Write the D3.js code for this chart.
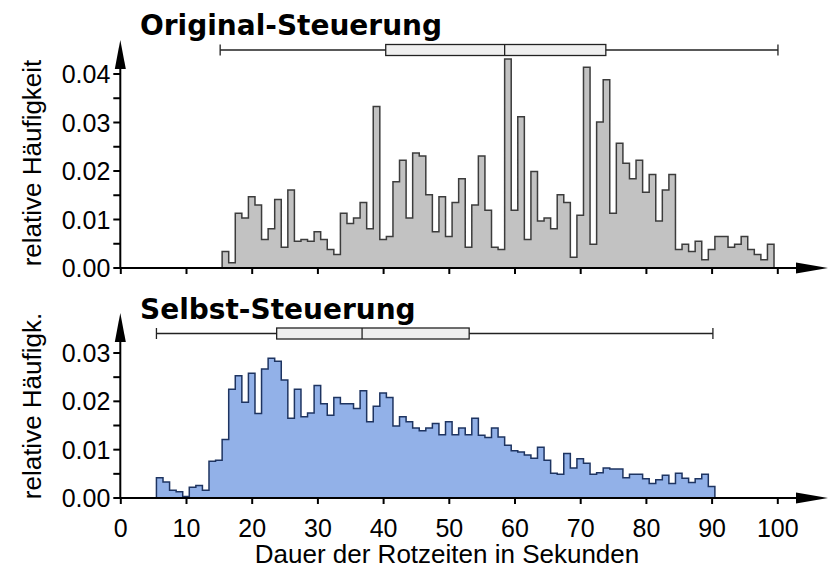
<!DOCTYPE html>
<html>
<head>
<meta charset="utf-8">
<script src="https://cdn.jsdelivr.net/npm/d3@7"></script>
<style>
  body { margin: 0; background: #fff; }
  svg { display: block; }
</style>
</head>
<body>
<svg id="chart" width="828" height="566"></svg>
<script>
// relative Häufigkeit je 1-Sekunden-Klasse (Klassenmitte = Sekunde)
var origStart = 16;
var origValues = [
  0.0034, 0.0011, 0.0113, 0.0103, 0.0147, 0.0130, 0.0059, 0.0081, 0.0141, 0.0043,
  0.0161, 0.0055, 0.0059, 0.0055, 0.0075, 0.0059, 0.0038, 0.0028, 0.0113, 0.0092,
  0.0103, 0.0135, 0.0081, 0.0333, 0.0059, 0.0065, 0.0178, 0.0222, 0.0103, 0.0237,
  0.0231, 0.0151, 0.0075, 0.0147, 0.0065, 0.0135, 0.0184, 0.0043, 0.0130, 0.0231,
  0.0119, 0.0043, 0.0038, 0.0431, 0.0119, 0.0312, 0.0059, 0.0199, 0.0097, 0.0103,
  0.0081, 0.0151, 0.0135, 0.0022, 0.0109, 0.0414, 0.0049, 0.0301, 0.0388, 0.0113,
  0.0257, 0.0216, 0.0184, 0.0222, 0.0156, 0.0193, 0.0097, 0.0161, 0.0193, 0.0038,
  0.0049, 0.0034, 0.0055, 0.0017, 0.0038, 0.0065, 0.0065, 0.0043, 0.0049, 0.0065,
  0.0038, 0.0028, 0.0017, 0.0049
];
var selbstStart = 6;
var selbstValues = [
  0.0042, 0.0033, 0.0016, 0.0013, 0.0003, 0.0022, 0.0026, 0.0016, 0.0076, 0.0078,
  0.0121, 0.0225, 0.0253, 0.0198, 0.0258, 0.0175, 0.0267, 0.0289, 0.0283, 0.0244,
  0.0165, 0.0225, 0.0168, 0.0176, 0.0233, 0.0195, 0.0171, 0.0208, 0.0195, 0.0195,
  0.0185, 0.0222, 0.0158, 0.0190, 0.0217, 0.0208, 0.0149, 0.0168, 0.0158, 0.0145,
  0.0139, 0.0145, 0.0154, 0.0131, 0.0158, 0.0131, 0.0145, 0.0131, 0.0165, 0.0130,
  0.0125, 0.0145, 0.0126, 0.0109, 0.0098, 0.0095, 0.0089, 0.0082, 0.0105, 0.0078,
  0.0051, 0.0049, 0.0092, 0.0062, 0.0081, 0.0072, 0.0049, 0.0052, 0.0062, 0.0060,
  0.0060, 0.0042, 0.0049, 0.0049, 0.0040, 0.0030, 0.0038, 0.0047, 0.0030, 0.0051,
  0.0041, 0.0032, 0.0040, 0.0049, 0.0024
];
// Boxplot: Minimum, Q1, Median, Q3, Maximum
var origBox = [15.2, 40.4, 58.5, 73.9, 100.1];
var selbstBox = [5.5, 23.8, 36.8, 53.1, 90.2];

var xTicks = [0, 10, 20, 30, 40, 50, 60, 70, 80, 90, 100];
var origYTicks = [0, 0.01, 0.02, 0.03, 0.04];
var selbstYTicks = [0, 0.01, 0.02, 0.03];

var svg = d3.select("#chart");
var font = "'Liberation Sans', Arial, sans-serif";

var x = d3.scaleLinear().domain([0, 100]).range([120.3, 777.3]);

var panels = [
  { title: "Original-Steuerung", ylabel: "relative Häufigkeit", start: origStart, values: origValues,
    box: origBox, yTicks: origYTicks, ymax: 0.04, y0: 268, y1: 74, top: 40, titleY: 35, boxY: 50,
    labelY: 163, fill: "#c2c2c2", stroke: "#3c3c3c" },
  { title: "Selbst-Steuerung", ylabel: "relative Häufigk.", start: selbstStart, values: selbstValues,
    box: selbstBox, yTicks: selbstYTicks, ymax: 0.03, y0: 498, y1: 353, top: 313, titleY: 319, boxY: 333.5,
    labelY: 406, fill: "#92b1e8", stroke: "#1e3461" }
];

panels.forEach(function(p, pi) {
  var y = d3.scaleLinear().domain([0, p.ymax]).range([p.y0, p.y1]);
  var g = svg.append("g");

  // Histogramm: Stufen, Anfangs-/Endkante bis zur Nulllinie
  var steps = [{ s: p.start - 0.5, v: 0 }];
  p.values.forEach(function(v, i) {
    steps.push({ s: p.start + i - 0.5, v: v });
    steps.push({ s: p.start + i + 0.5, v: v });
  });
  steps.push({ s: p.start + p.values.length - 0.5, v: 0 });

  g.append("path")
    .datum(steps)
    .attr("d", d3.area()
      .x(function(d) { return x(d.s); })
      .y0(y(0))
      .y1(function(d) { return y(d.v); }))
    .attr("fill", p.fill);
  g.append("path")
    .datum(steps)
    .attr("d", d3.line()
      .x(function(d) { return x(d.s); })
      .y(function(d) { return y(d.v); }))
    .attr("fill", "none")
    .attr("stroke", p.stroke)
    .attr("stroke-width", 1.5);

  // x-Achse
  var xAxis = d3.axisBottom(x).tickValues(xTicks).tickSize(6).tickFormat(d3.format("d"));
  var xg = g.append("g")
    .attr("transform", "translate(0," + p.y0 + ")")
    .call(xAxis);
  xg.select(".domain").remove();
  xg.selectAll(".tick line").attr("stroke", "#000").attr("stroke-width", 2);
  if (pi === 0) {
    xg.selectAll(".tick text").remove();
  } else {
    xg.attr("font-size", null).attr("font-family", null);
    xg.selectAll(".tick text")
      .style("font-size", "25px")
      .style("font-family", font)
      .attr("fill", "#000")
      .attr("dy", null)
      .attr("y", 39);
  }
  g.append("line")
    .attr("x1", x(0) - 6).attr("x2", 800)
    .attr("y1", p.y0).attr("y2", p.y0)
    .attr("stroke", "#000").attr("stroke-width", 2);
  g.append("path")
    .attr("d", "M796," + (p.y0 - 5.5) + "L828," + p.y0 + "L796," + (p.y0 + 5.5) + "Z")
    .attr("fill", "#000");

  // y-Achse
  var minor = d3.range(0, p.ymax + 0.0001, 0.005);
  var yg = g.append("g").attr("transform", "translate(" + x(0) + ",0)");
  yg.selectAll("line.minor")
    .data(minor)
    .enter()
    .append("line")
    .attr("class", "minor")
    .attr("x1", -7).attr("x2", 0)
    .attr("y1", function(d) { return y(d); })
    .attr("y2", function(d) { return y(d); })
    .attr("stroke", "#000").attr("stroke-width", 2);
  yg.selectAll("text")
    .data(p.yTicks)
    .enter()
    .append("text")
    .attr("x", -10)
    .attr("y", function(d) { return y(d); })
    .attr("dy", "0.36em")
    .attr("text-anchor", "end")
    .style("font-size", "25px")
    .style("font-family", font)
    .text(d3.format(".2f"));
  yg.append("line")
    .attr("x1", 0).attr("x2", 0)
    .attr("y1", p.y0 + 1).attr("y2", p.top + 20)
    .attr("stroke", "#000").attr("stroke-width", 2);
  yg.append("path")
    .attr("d", "M-5.5," + (p.top + 29) + "L0," + p.top + "L5.5," + (p.top + 29) + "Z")
    .attr("fill", "#000");

  // y-Achsentitel
  g.append("text")
    .attr("transform", "translate(41," + p.labelY + ") rotate(-90)")
    .attr("text-anchor", "middle")
    .style("font-size", "26px")
    .style("font-family", font)
    .text(p.ylabel);

  // Titel
  g.append("text")
    .attr("x", 140)
    .attr("y", p.titleY)
    .style("font-size", "28px")
    .style("font-weight", "bold")
    .style("font-family", "'DejaVu Sans', Verdana, sans-serif")
    .text(p.title);

  // Boxplot
  var b = p.box, bh = 11;
  g.append("line")
    .attr("x1", x(b[0])).attr("x2", x(b[4]))
    .attr("y1", p.boxY).attr("y2", p.boxY)
    .attr("stroke", "#222").attr("stroke-width", 1.3);
  [b[0], b[4]].forEach(function(v) {
    g.append("line")
      .attr("x1", x(v)).attr("x2", x(v))
      .attr("y1", p.boxY - bh / 2).attr("y2", p.boxY + bh / 2)
      .attr("stroke", "#222").attr("stroke-width", 1.3);
  });
  g.append("rect")
    .attr("x", x(b[1]))
    .attr("y", p.boxY - bh / 2)
    .attr("width", x(b[3]) - x(b[1]))
    .attr("height", bh)
    .attr("fill", "#efefef")
    .attr("stroke", "#222")
    .attr("stroke-width", 1.3);
  g.append("line")
    .attr("x1", x(b[2])).attr("x2", x(b[2]))
    .attr("y1", p.boxY - bh / 2).attr("y2", p.boxY + bh / 2)
    .attr("stroke", "#222").attr("stroke-width", 1.3);
});

svg.append("text")
  .attr("x", 447)
  .attr("y", 563)
  .attr("text-anchor", "middle")
  .style("font-size", "26px")
  .style("font-family", font)
  .text("Dauer der Rotzeiten in Sekunden");
</script>
</body>
</html>
